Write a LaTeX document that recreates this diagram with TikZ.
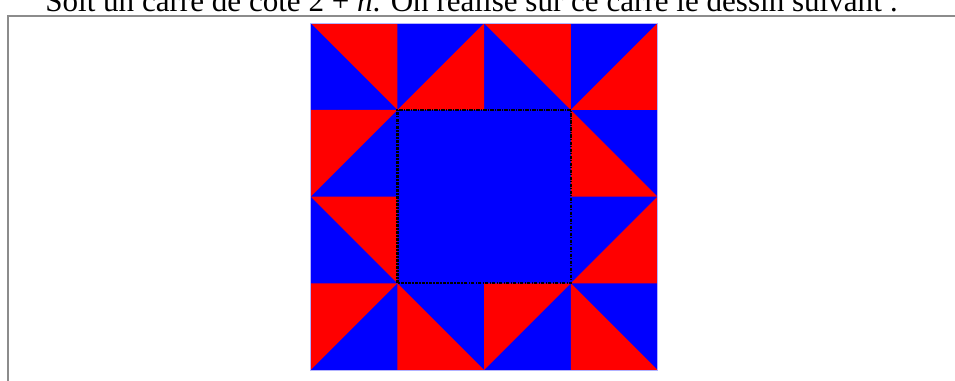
\documentclass[tikz,border=0pt]{standalone}
\usepackage{fontspec}
\setmainfont{Liberation Serif}
\usepackage{tikz}
\usetikzlibrary{calc}
\definecolor{quiltred}{HTML}{FF0000}
\definecolor{quiltblue}{HTML}{0000FF}

\begin{document}
\begin{tikzpicture}[x=2cm, y=2cm,
    frameline/.style={draw=gray!90, line width=1pt},
    innerline/.style={draw=black, line width=1.5pt,
      dash pattern=on 2.2pt off 0.8pt on 0.8pt off 0.8pt}]
  \useasboundingbox (-3.584,-0.127) rectangle (7.431,4.267);

  % Statement (cut by the page)
  \node[anchor=base west, inner sep=0pt, font=\fontsize{20.4}{24}\selectfont]
    (enonce) at (-3.065,4.129)
    {Soit un carré de côté 2 + \textit{n}. On réalise sur ce carré le dessin suivant :};

  % Frame
  \draw[frameline] (7.6,4.082) -- (-3.491,4.082) -- (-3.491,-0.3);

  % Blue background
  \fill[quiltblue] (0,0) rectangle (4,4);

  % Red half-squares: cell i/j, right-angle corner a/b
  \foreach \i/\j/\a/\b in {0/3/1/1, 1/3/1/0, 2/3/1/1, 3/3/1/0,
                           0/2/0/1, 3/2/0/0,
                           0/1/1/1, 3/1/1/0,
                           0/0/0/1, 1/0/0/0, 2/0/0/1, 3/0/0/0} {
    \fill[quiltred] ({\i+\a},{\j+\b}) -- ({\i+1-\a},{\j+\b})
      -- ({\i+\a},{\j+1-\b}) -- cycle;
  }

  % Outline and inner square
  \draw[blue!30, line width=0.5pt] (0,0) rectangle (4,4);
  \draw[innerline] (1,1) rectangle (3,3);
\end{tikzpicture}
\end{document}
